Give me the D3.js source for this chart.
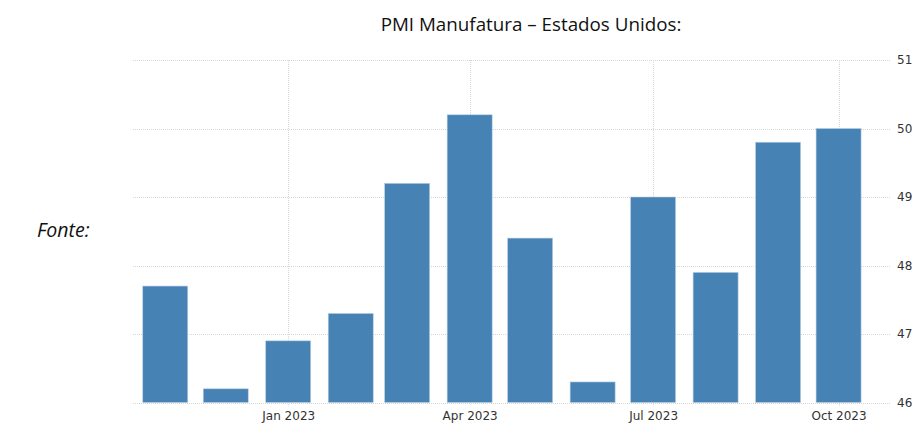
<!DOCTYPE html>
<html>
<head>
<meta charset="utf-8">
<script src="https://cdn.jsdelivr.net/npm/d3@7"></script>
<style>
  body { margin: 0; background: #fff; }
  svg { display: block; }
</style>
</head>
<body>
<div id="container"></div>
<script>
/* CONSTANTS */
const width = 913,
  height = 426,
  margin = { top: 60, bottom: 23.5, left: 133, right: 20 };

// data
const months = ["2022-11-01", "2022-12-01", "2023-01-01", "2023-02-01", "2023-03-01", "2023-04-01",
  "2023-05-01", "2023-06-01", "2023-07-01", "2023-08-01", "2023-09-01", "2023-10-01"];
const pmi = [47.7, 46.2, 46.9, 47.3, 49.2, 50.2, 48.4, 46.3, 49.0, 47.9, 49.8, 50.0];
const xTicks = ["2023-01-01", "2023-04-01", "2023-07-01", "2023-10-01"];
const yTicks = [46, 47, 48, 49, 50, 51];

const parse = d3.utcParse("%Y-%m-%d");
const data = months.map((m, i) => ({ date: parse(m), value: pmi[i] }));

const svg = d3.select("#container")
  .append("svg")
  .attr("width", width)
  .attr("height", height);

// + SCALES
const xScale = d3.scaleUtc()
  .domain([parse("2022-10-16"), parse("2023-10-28")])
  .range([margin.left, width - margin.right]);

const yScale = d3.scaleLinear()
  .domain([46, 51])
  .range([height - margin.bottom, margin.top]);

const barW = 45;

// title + side note
svg.append("text")
  .attr("x", 531)
  .attr("y", 31)
  .attr("text-anchor", "middle")
  .attr("font-family", "Open Sans, sans-serif")
  .attr("font-size", 18.8)
  .attr("fill", "#111")
  .text("PMI Manufatura – Estados Unidos:");

svg.append("text")
  .attr("x", 37)
  .attr("y", 237)
  .attr("font-family", "Open Sans, sans-serif")
  .attr("font-style", "italic")
  .attr("font-size", 19.5)
  .attr("fill", "#111")
  .text("Fonte:");

// + GRID
svg.append("g")
  .selectAll("line")
  .data(yTicks)
  .join("line")
  .attr("x1", margin.left)
  .attr("x2", width - margin.right - 2)
  .attr("y1", d => Math.round(yScale(d)) + 0.5)
  .attr("y2", d => Math.round(yScale(d)) + 0.5)
  .attr("stroke", "#d6d6d6")
  .attr("stroke-dasharray", "1,1");

svg.append("g")
  .selectAll("line")
  .data(xTicks.map(parse))
  .join("line")
  .attr("x1", d => Math.round(xScale(d)) + 0.5)
  .attr("x2", d => Math.round(xScale(d)) + 0.5)
  .attr("y1", margin.top)
  .attr("y2", height - margin.bottom + 4)
  .attr("stroke", "#d6d6d6")
  .attr("stroke-dasharray", "1,1");

// + BARS
svg.append("g")
  .selectAll("rect")
  .data(data)
  .join("rect")
  .attr("x", d => xScale(d.date) - barW / 2)
  .attr("width", barW)
  .attr("y", d => yScale(d.value))
  .attr("height", d => yScale(46) - yScale(d.value))
  .attr("fill", "#4682b4")
  .attr("stroke", "#b8cfe3")
  .attr("stroke-width", 0.6);

// + AXES
const xAxis = d3.axisBottom(xScale)
  .tickValues(xTicks.map(parse))
  .tickFormat(d3.utcFormat("%b %Y"))
  .tickSize(0)
  .tickPadding(9);

svg.append("g")
  .attr("transform", `translate(0, ${height - margin.bottom})`)
  .call(xAxis)
  .call(g => g.select(".domain").remove())
  .selectAll(".tick text")
  .attr("font-family", "Tahoma, DejaVu Sans, sans-serif")
  .attr("font-size", 12)
  .attr("fill", "#333");

const yAxis = d3.axisRight(yScale)
  .tickValues(yTicks)
  .tickFormat(d3.format("d"))
  .tickSize(0)
  .tickPadding(4);

svg.append("g")
  .attr("transform", `translate(${width - margin.right}, 0)`)
  .call(yAxis)
  .call(g => g.select(".domain").remove())
  .selectAll(".tick text")
  .attr("font-family", "Tahoma, DejaVu Sans, sans-serif")
  .attr("font-size", 12)
  .attr("fill", "#333");
</script>
</body>
</html>
